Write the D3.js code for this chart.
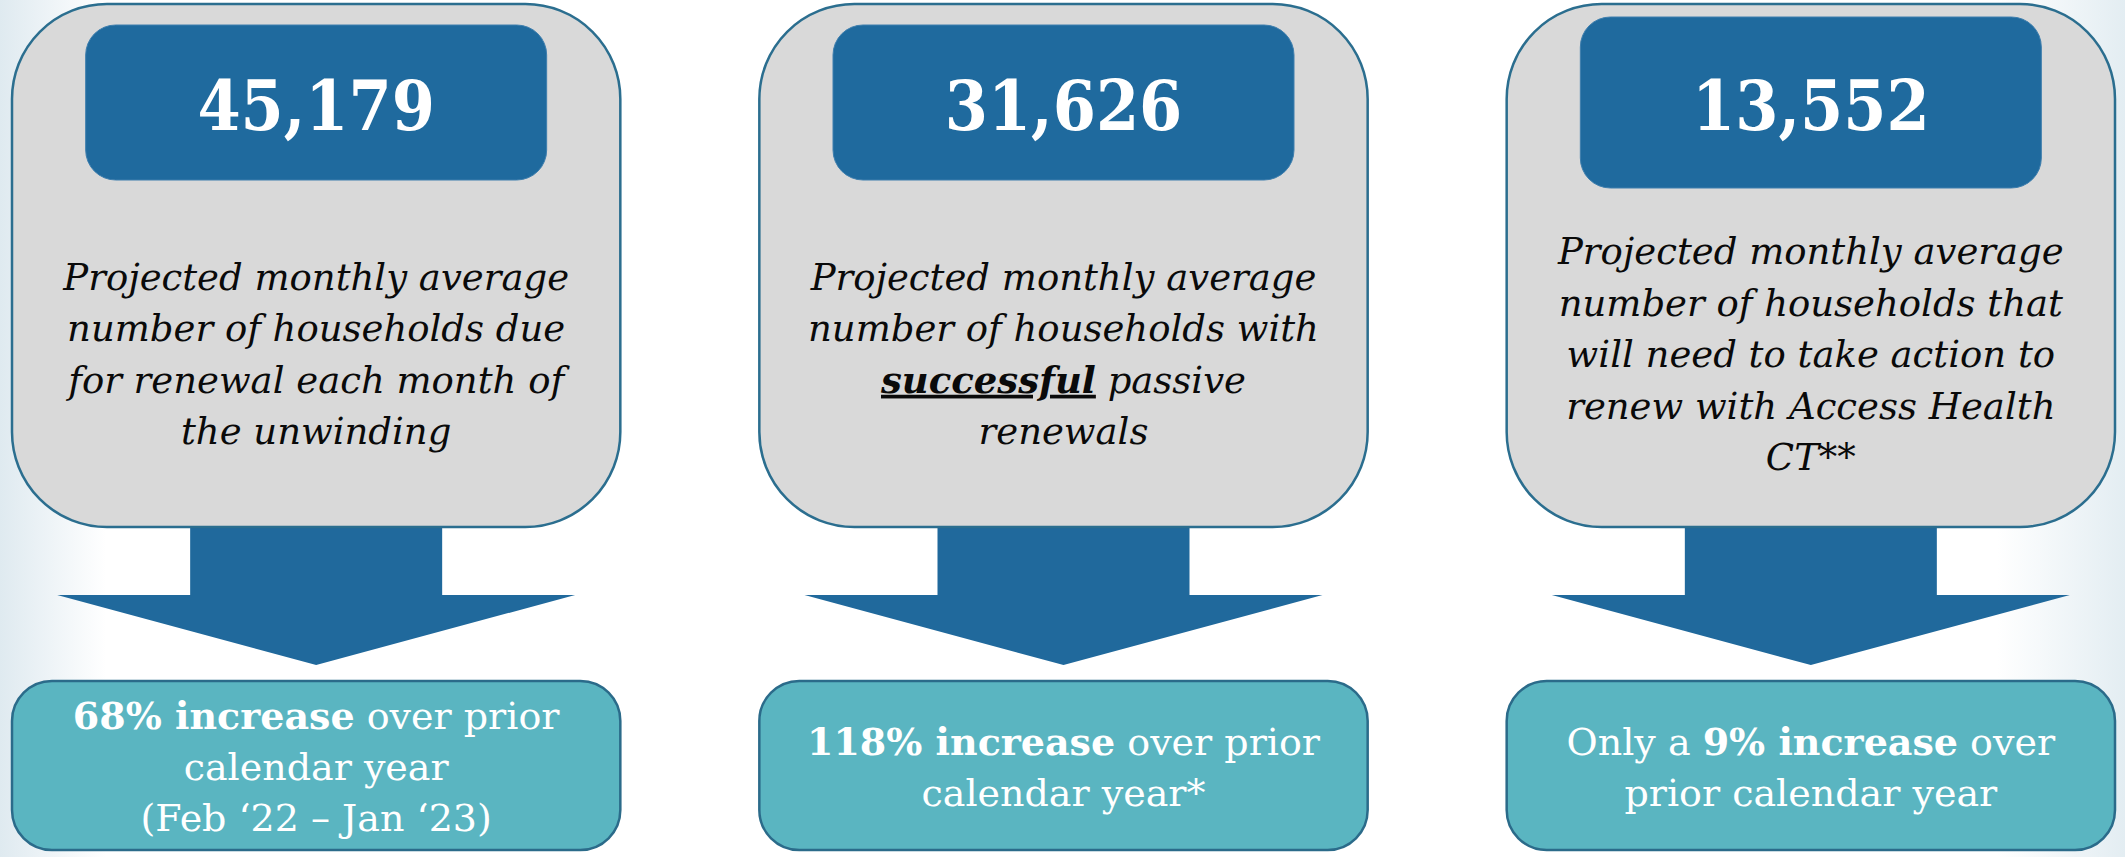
<!DOCTYPE html>
<html>
<head>
<meta charset="utf-8">
<script src="https://cdn.jsdelivr.net/npm/d3@7"></script>
<style>
  html, body { margin: 0; padding: 0; background: #fff; }
  #graf { width: 2125px; height: 857px; }
</style>
</head>
<body>
<div id="graf"></div>
<script>
// Datos de cada panel
const totals = [45179, 31626, 13552]
const pctIncrease = [68, 118, 9]
// {texto} = negrita
const descriptions = [
  ['Projected monthly average', 'number of households due', 'for renewal each month of', 'the unwinding'],
  ['Projected monthly average', 'number of households with', '{successful} passive', 'renewals'],
  ['Projected monthly average', 'number of households that', 'will need to take action to', 'renew with Access Health', 'CT**']
]
const increaseLines = [
  [`{${pctIncrease[0]}% increase} over prior`, 'calendar year', '(Feb \u201822 \u2013 Jan \u201823)'],
  [`{${pctIncrease[1]}% increase} over prior`, 'calendar year*'],
  [`Only a {${pctIncrease[2]}% increase} over`, 'prior calendar year']
]

const ancho_total = 2125
const alto_total = 857

const svg = d3.select('#graf').append('svg')
  .attr('width', ancho_total)
  .attr('height', alto_total)

// Fondo con un leve degradado en los bordes
const defs = svg.append('defs')
const grad = defs.append('linearGradient').attr('id', 'fondo')
grad.append('stop').attr('offset', '0%').attr('stop-color', '#dfeaf0')
grad.append('stop').attr('offset', '5%').attr('stop-color', '#ffffff')
grad.append('stop').attr('offset', '94%').attr('stop-color', '#ffffff')
grad.append('stop').attr('offset', '100%').attr('stop-color', '#e3edf2')
svg.append('rect')
  .attr('width', ancho_total).attr('height', alto_total)
  .attr('fill', 'url(#fondo)')

// Escalador horizontal de los paneles
const x = d3.scaleBand()
  .domain(d3.range(totals.length))
  .range([12, 2115])
  .paddingInner(0.186)

const fmt = d3.format(',')
const numBoxExtra = [0, 0, 8]

const greyTop = 4, greyBottom = 527
const stemBottom = 595, tipY = 665
const tealTop = 681, tealBottom = 850

const panels = svg.selectAll('g.panel')
  .data(totals)
  .join('g')
  .attr('class', 'panel')
  .attr('transform', (d, i) => `translate(${x(i)}, 0)`)

const w = x.bandwidth()
const cx = w / 2

// flecha (debajo de la caja gris)
panels.append('path')
  .attr('fill', '#20699c')
  .attr('d', () => {
    const sw = 126, hw = 259
    return `M${cx - sw},${greyBottom - 4} L${cx + sw},${greyBottom - 4} L${cx + sw},${stemBottom}
            L${cx + hw},${stemBottom} L${cx},${tipY} L${cx - hw},${stemBottom} L${cx - sw},${stemBottom} Z`
  })

// caja gris
panels.append('rect')
  .attr('x', 0).attr('y', greyTop)
  .attr('width', w).attr('height', greyBottom - greyTop)
  .attr('rx', 95).attr('ry', 95)
  .attr('fill', '#d9d9d9')
  .attr('stroke', '#2b6e8f')
  .attr('stroke-width', 2.5)

// caja azul con el numero
panels.append('rect')
  .attr('x', cx - 230.5)
  .attr('y', (d, i) => 25 - numBoxExtra[i])
  .attr('width', 461)
  .attr('height', (d, i) => 155 + 2 * numBoxExtra[i])
  .attr('rx', 30).attr('ry', 30)
  .attr('fill', '#1f6a9e')
  .attr('stroke', '#3f7fae')
  .attr('stroke-width', 1)

panels.append('text')
  .attr('x', cx).attr('y', 130)
  .attr('text-anchor', 'middle')
  .attr('fill', '#fff')
  .style('font-family', '"DejaVu Serif Condensed", "DejaVu Serif", serif')
  .style('font-stretch', 'condensed')
  .style('font-weight', 'bold')
  .style('font-size', '69px')
  .text(d => fmt(d))

// texto con segmentos en negrita
function richLine(sel, line, boldStyle) {
  const parts = line.split(/(\{[^}]*\})/).filter(s => s.length)
  parts.forEach(p => {
    const t = sel.append('tspan')
    if (p.startsWith('{')) {
      t.text(p.slice(1, -1)).style('font-weight', 'bold')
      boldStyle(t)
    } else {
      t.text(p)
    }
  })
}

// descripcion en italica
panels.each(function(d, i) {
  const g = d3.select(this)
  const lines = descriptions[i]
  const n = lines.length
  lines.forEach((line, j) => {
    const t = g.append('text')
      .attr('x', cx)
      .attr('y', 367 + (j - (n - 1) / 2) * 51.5)
      .attr('text-anchor', 'middle')
      .attr('fill', '#0a0a0a')
      .style('font-family', '"DejaVu Serif", serif')
      .style('font-style', 'italic')
      .style('font-size', '37px')
    richLine(t, line, s => s.style('text-decoration', 'underline'))
  })
})

// caja turquesa inferior
panels.append('rect')
  .attr('x', 0).attr('y', tealTop)
  .attr('width', w).attr('height', tealBottom - tealTop)
  .attr('rx', 40).attr('ry', 40)
  .attr('fill', '#5ab5c1')
  .attr('stroke', '#2b6b8a')
  .attr('stroke-width', 2.5)

panels.each(function(d, i) {
  const g = d3.select(this)
  const lines = increaseLines[i]
  const n = lines.length
  lines.forEach((line, j) => {
    const t = g.append('text')
      .attr('x', cx)
      .attr('y', 780 + (j - (n - 1) / 2) * 51)
      .attr('text-anchor', 'middle')
      .attr('fill', '#fff')
      .style('font-family', '"DejaVu Serif", serif')
      .style('font-size', '38px')
    richLine(t, line, s => s)
  })
})
</script>
</body>
</html>
